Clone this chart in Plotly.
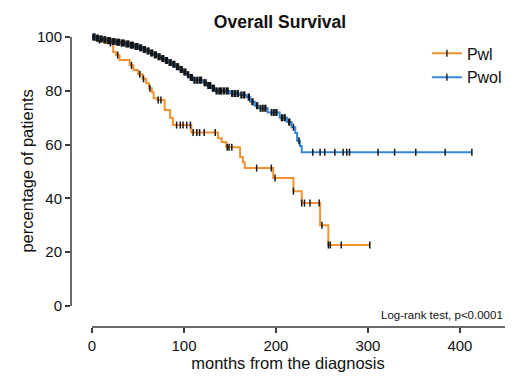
import plotly.graph_objects as go
import numpy as np

# ---------------- data ----------------
# Pwl (orange) Kaplan-Meier step curve: event times (months) and survival (%)
pwl_t = [0, 5, 14, 23, 26, 30, 41, 45, 50, 55, 59, 62, 65, 67, 71, 79, 85, 88, 108, 137, 141, 146,
         161, 164, 166, 197, 219, 228, 248, 257, 302]
pwl_s = [100, 98.9, 97.8, 94.5, 93.3, 91.5, 89.5, 87.8, 86.2, 84.5, 82.8, 81, 79.5, 77.3, 76.6, 72.9,
         69.9, 67.3, 64.5, 62.4, 61, 59, 55.4, 53.5, 51.3, 47.6, 42.7, 38.3, 30, 22.7, 22.7]
pwl_cens = [3, 8, 20, 28, 43, 52, 56, 63, 72, 75, 92, 96, 99, 103, 107, 110, 114, 117, 122, 134, 147,
            149, 152, 179, 195, 199, 219, 228, 231, 237, 247, 250, 257, 259, 271, 302]

# Pwol (blue) Kaplan-Meier step curve
pwol_t = [0, 4, 8, 12, 16, 21, 26, 31, 36, 41, 46, 51, 55, 59, 63, 67, 71, 75, 79, 83, 87, 91, 95,
          99, 103, 106, 110, 121, 125, 130, 134, 150, 160, 168, 172, 177, 181, 191, 204, 212, 217,
          221, 223, 226, 228, 413]
pwol_s = [100, 99.6, 99.3, 99, 98.7, 98.4, 98.1, 97.8, 97.4, 97, 96.5, 96, 95.4, 94.8, 94.1, 93.4,
          92.7, 92, 91.3, 90.6, 89.9, 89, 88, 87, 86, 85, 84, 83, 82, 81, 80, 79, 78.5, 77.7, 76,
          74.5, 73.5, 72, 70, 68.4, 66.5, 64.3, 61.5, 59.5, 57.2, 57.2]
pwol_cens = [1, 2, 3, 5, 6, 7, 9, 10, 11, 13, 14, 15, 17, 18, 19, 20, 22, 23, 24, 25, 27, 28, 29,
             30, 32, 33, 34, 35, 37, 38, 39, 40, 42, 43, 44, 45, 47, 48, 49, 50, 52, 53, 54, 56, 57,
             58, 60, 61, 62, 64, 65, 66, 68, 69, 70, 72, 73, 74, 76, 77, 78, 80, 81, 82, 84, 85, 86,
             88, 89, 90, 92, 93, 94, 96, 97, 98, 100, 101, 102, 104, 105, 107, 108, 109, 111, 112,
             114, 115, 117, 118, 119, 122, 123, 124, 126, 127, 128, 129, 131, 132, 133, 135, 136,
             138, 139, 140, 141, 143, 144, 146, 147, 148, 152, 153, 155, 156, 158, 159, 162, 163,
             165, 166, 170, 171, 174, 175, 179, 180, 183, 185, 186, 188, 189, 195, 197, 198, 200,
             201, 206, 207, 209, 210, 214, 215, 219, 225, 240, 248, 253, 264, 273, 277, 280, 311,
             329, 352, 384, 413]

series_names = ["Pwl", "Pwol"]
y_ticks = [0, 20, 40, 60, 80, 100]
x_ticks = [0, 100, 200, 300, 400]

ORANGE = "#F5922F"
BLUE = "#3487DA"
TICKC = "#151515"
AXC = "#3a3a3a"
FONT = "Liberation Sans, Arial, sans-serif"

# page body has an 8px default margin, so the figure is 8px smaller than the window
W, H = 512, 378
ML = 63


def step_value(t_list, s_list, t):
    idx = np.searchsorted(np.array(t_list), t, side="right") - 1
    return s_list[max(idx, 0)]


fig = go.Figure()

for name, t, s, cens, col in [("Pwl", pwl_t, pwl_s, pwl_cens, ORANGE),
                              ("Pwol", pwol_t, pwol_s, pwol_cens, BLUE)]:
    fig.add_trace(go.Scatter(x=t, y=s, mode="lines", line=dict(color=col, width=2, shape="hv"),
                             showlegend=False, hoverinfo="skip"))
    fig.add_trace(go.Scatter(x=cens, y=[step_value(t, s, c) for c in cens], mode="markers",
                             marker=dict(symbol="line-ns", size=5, line=dict(color=TICKC, width=1.5)),
                             showlegend=False, hoverinfo="skip"))

for name, col in zip(series_names, [ORANGE, BLUE]):
    fig.add_trace(go.Scatter(x=[None], y=[None], mode="lines+markers", name=name,
                             line=dict(color=col, width=2),
                             marker=dict(symbol="line-ns", size=5, line=dict(color=TICKC, width=1.4))))

# detached Prism-style axis lines
fig.add_shape(type="line", xref="paper", yref="y", x0=0, x1=0, y0=0, y1=100,
              line=dict(color=AXC, width=1.5))
fig.add_shape(type="line", xref="x", yref="paper", x0=0, x1=449, y0=0, y1=0,
              line=dict(color=AXC, width=1.5))

fig.add_annotation(text="Log-rank test, p<0.0001", xref="paper", yref="paper", x=1.0, y=0.04,
                   xanchor="right", yanchor="middle", showarrow=False,
                   font=dict(size=11.5, color="#111", family=FONT))

# y-axis title placed as rotated text
fig.add_annotation(text="percentage of patients", xref="paper", yref="y",
                   x=-(ML - 19) / (W - ML - 15), y=50, textangle=-90,
                   xanchor="center", yanchor="middle", showarrow=False,
                   font=dict(size=16.5, color="#111", family=FONT))

fig.update_layout(
    width=W, height=H,
    margin=dict(l=ML, r=15, t=24, b=59),
    paper_bgcolor="white", plot_bgcolor="white",
    font=dict(family=FONT, color="#111", size=15),
    title=dict(text="<b>Overall Survival</b>", x=272 / W, xref="container", xanchor="center",
               y=1 - 14 / H, yref="container", yanchor="middle",
               font=dict(size=17.5, family=FONT, color="#111")),
    legend=dict(x=0.82, y=0.985, xanchor="left", yanchor="top", font=dict(size=16, family=FONT),
                bgcolor="rgba(0,0,0,0)", tracegroupgap=0, itemwidth=30),
    xaxis=dict(range=[-22.8, 449], tickvals=x_ticks, ticks="outside", ticklen=5, tickwidth=1.5,
               tickcolor=AXC, showline=False, showgrid=False, zeroline=False, automargin=False,
               tickfont=dict(size=15, family=FONT),
               title=dict(text="months from the diagnosis", standoff=4, font=dict(size=16.5, family=FONT))),
    yaxis=dict(range=[-7.8, 101.9], tickvals=y_ticks, ticks="outside", ticklen=5, tickwidth=1.5,
               tickcolor=AXC, showline=False, showgrid=False, zeroline=False, automargin=False,
               tickfont=dict(size=15, family=FONT)),
)

fig.write_html("out.html")
